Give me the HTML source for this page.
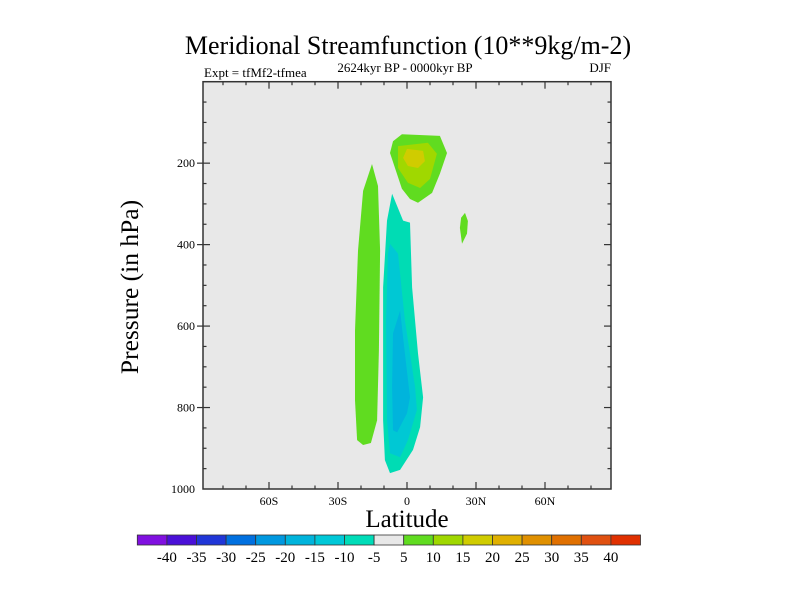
<!DOCTYPE html>
<html><head><meta charset="utf-8"><style>
html,body{margin:0;padding:0;background:#fff;}
svg{display:block;font-family:"Liberation Serif",serif;}
</style></head><body>
<svg id="chart" width="800" height="600" viewBox="0 0 800 600" xmlns="http://www.w3.org/2000/svg">
<text x="408" y="54" font-size="26" text-anchor="middle">Meridional Streamfunction (10**9kg/m-2)</text>
<text x="204" y="77" font-size="13">Expt = tfMf2-tfmea</text>
<text x="405" y="72" font-size="13" text-anchor="middle">2624kyr BP - 0000kyr BP</text>
<text x="611" y="72" font-size="13" text-anchor="end">DJF</text>
<rect x="203" y="81.7" width="408" height="407.3" fill="#e8e8e8"/>
<g id="contours"></g>
<g id="ticks"></g>
<rect x="203" y="81.7" width="408" height="407.3" fill="none" stroke="#333" stroke-width="1.5"/>
<text transform="translate(138,287) rotate(-90)" font-size="25.5" text-anchor="middle">Pressure (in hPa)</text>
<text x="407" y="527" font-size="25" text-anchor="middle">Latitude</text>
<g id="colorbar"></g>
</svg>
<script>
const contourLevels=[5,10,15,-5,-10,-15];
const levelColors=["#60dc20","#a0d800","#d0cc00","#00dcb4","#00c8d4","#00b4dc"];
const regionLevel=[0,0,1,2,0,3,4,5];
const regionLat=[
[-15.2,-12.6,-11.7,-12.2,-13,-15.7,-19.1,-21.7,-22.6,-22.6,-21.3,-19.1],
[-2.2,14.3,17.4,14.3,10.9,4.8,1.3,-2.2,-7.4,-6.1],
[-3.9,9.1,13,10,5.7,0.4,-3.9],
[0,7,7.8,4.8,0.4,-1.7],
[25.2,26.5,26.1,23.9,23,23.5],
[-6.5,-1.7,1.3,2.2,4.8,7,5.7,2.6,-3,-7.4,-9.6,-10.4,-10.4,-8.7],
[-7.4,-3.9,-0.9,3.5,4.3,0.4,-3,-7.4,-8.7,-9.1,-8.3],
[-3,-0.9,1.3,0,-4.3,-6.1,-6.5,-6.1]
];
const regionP=[
[202,256,415,660,831,887,892,880,782,611,415,268],
[129,133,175,226,273,297,288,263,175,146],
[158,150,177,239,261,248,212],
[165,170,195,212,207,187],
[322,342,373,398,359,334],
[275,341,346,505,667,775,848,904,953,961,929,831,505,341],
[398,422,586,750,806,880,922,912,831,586,422],
[562,667,775,814,861,856,750,618]
];
const xTickVals=[-60,-30,0,30,60];
const xTickLabels=["60S","30S","0","30N","60N"];
const yTickVals=[200,400,600,800,1000];
const yTickLabels=["200","400","600","800","1000"];
const cbLabels=["-40","-35","-30","-25","-20","-15","-10","-5","5","10","15","20","25","30","35","40"];
const cbColors=["#8010e0","#4a10d8","#2036d8","#0070e0","#0098e0","#00b4dc","#00c8d8","#00dcb8","#e8e8e8","#60dc20","#a0d800","#d0cc00","#e0b000","#e09000","#e07000","#e05010","#e03000"];

const NS="http://www.w3.org/2000/svg";
const X0=203,X1=611,Y0=81.7,Y1=489;
function xs(lat){return 407+lat*2.3;}
function ys(p){return Y0+(p/1000)*(Y1-Y0);}
function mk(tag,attrs,parent){const e=document.createElementNS(NS,tag);for(const k in attrs)e.setAttribute(k,attrs[k]);parent.appendChild(e);return e;}

const cg=document.getElementById('contours');
regionLat.forEach((lats,i)=>{
  const pts=lats.map((la,j)=>xs(la).toFixed(1)+","+ys(regionP[i][j]).toFixed(1)).join(" ");
  const e=mk('polygon',{points:pts,fill:levelColors[regionLevel[i]]},cg);
  
  
});

const tg=document.getElementById('ticks');
const st={stroke:"#333","stroke-width":1.2};
for(let la=-80;la<=80;la+=10){
  const maj=la%30===0, L=maj?7:3.5, x=xs(la);
  mk('line',Object.assign({x1:x,x2:x,y1:Y1,y2:Y1-L},st),tg);
  mk('line',Object.assign({x1:x,x2:x,y1:Y0,y2:Y0+L},st),tg);
}
for(let p=50;p<1000;p+=50){
  const maj=p%200===0, L=maj?7:3.5, y=ys(p);
  mk('line',Object.assign({x1:X0-(maj?6:0),x2:X0+L,y1:y,y2:y},st),tg);
  mk('line',Object.assign({x1:X1,x2:X1-L,y1:y,y2:y},st),tg);
}
xTickVals.forEach((v,i)=>{
  const t=mk('text',{x:xs(v),y:505,'font-size':12,'text-anchor':'middle'},tg);
  t.textContent=xTickLabels[i];
  
  
});
yTickVals.forEach((v,i)=>{
  const t=mk('text',{x:195,y:ys(v)+4,'font-size':12,'text-anchor':'end'},tg);
  t.textContent=yTickLabels[i];
  
  
});

const cb=document.getElementById('colorbar');
const CB0=137.3,CBW=29.6,CBY=535,CBH=10;
cbColors.forEach((c,i)=>{
  const r=mk('rect',{x:CB0+i*CBW,y:CBY,width:CBW,height:CBH,fill:c,stroke:"#333","stroke-width":0.8},cb);
  
  
});
cbLabels.forEach((l,i)=>{
  const t=mk('text',{x:CB0+(i+1)*CBW,y:562,'font-size':15,'text-anchor':'middle'},cb);
  t.textContent=l;
  
  
});
</script>
</body></html>
